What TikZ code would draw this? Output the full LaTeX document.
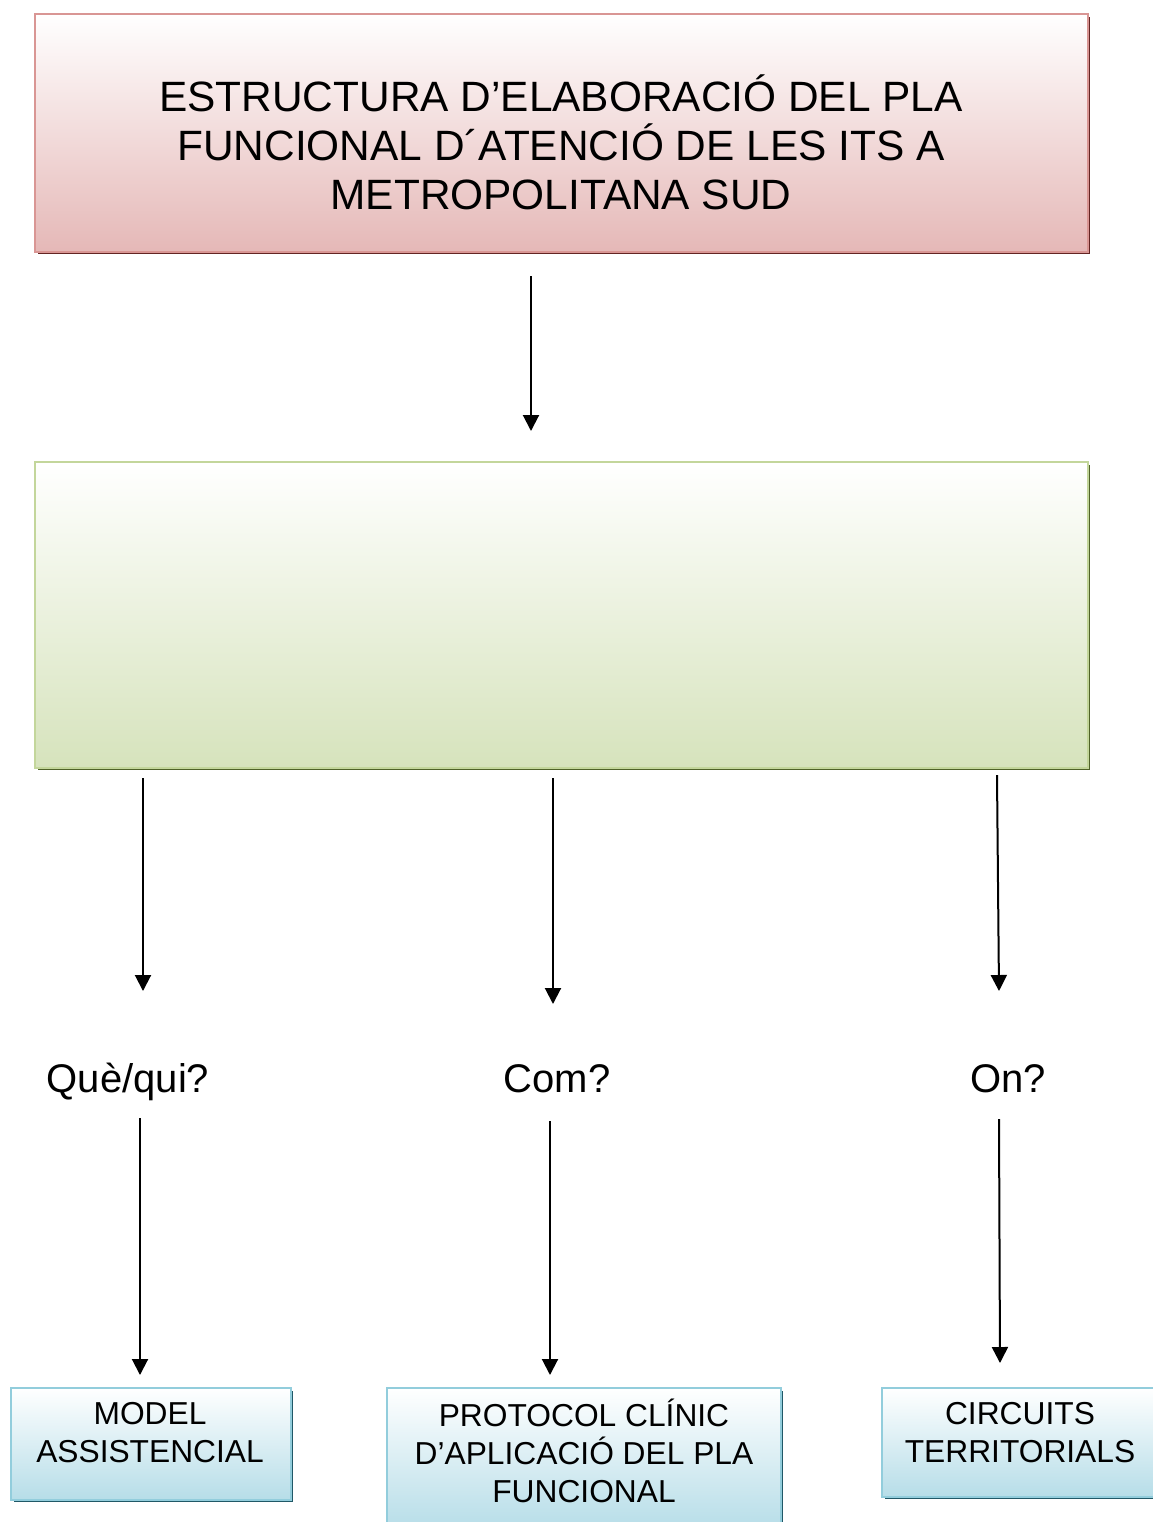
\documentclass[tikz,border=0pt]{standalone}
\usepackage{fontspec}
\setmainfont{Liberation Sans}
\usetikzlibrary{arrows.meta}

\definecolor{pinkfill}{HTML}{E5B8B7}
\definecolor{pinkline}{HTML}{D99694}
\definecolor{pinkshade}{HTML}{632423}
\definecolor{greenfill}{HTML}{D6E3BC}
\definecolor{greenline}{HTML}{C3D69B}
\definecolor{greenshade}{HTML}{4F6228}
\definecolor{bluefill}{HTML}{B6DDE8}
\definecolor{blueline}{HTML}{92CDDC}
\definecolor{blueshade}{HTML}{205867}

\tikzset{
  px/.style={x=0.75pt,y=-0.75pt},
  panel/.style 2 args={draw=#2, line width=1.5pt, top color=white, bottom color=#1},
  arr/.style={line width=1.5pt, -{Triangle[width=12pt,length=12pt]}},
  toptext/.style={align=center, inner sep=0pt, font=\fontsize{31.8pt}{36.8pt}\selectfont},
  boxtext/.style={align=center, inner sep=0pt, font=\fontsize{23.8pt}{28.5pt}\selectfont},
  qtext/.style={inner sep=0pt, anchor=base, font=\fontsize{30pt}{36pt}\selectfont}
}

\begin{document}
\begin{tikzpicture}[px]
\useasboundingbox (0,0) rectangle (1153,1522);

% drop shadows (bottom/right edges)
\fill[pinkshade]  (38,17) rectangle (1090,254);
\fill[greenshade] (38,465) rectangle (1090,770);
\fill[blueshade]  (14,1391) rectangle (293,1502);
\fill[blueshade]  (390,1391) rectangle (783,1530);
\fill[blueshade]  (885,1391) rectangle (1160,1499);

% boxes
\draw[panel={pinkfill}{pinkline}]  (35,14) rectangle (1088,252);
\draw[panel={greenfill}{greenline}] (35,462) rectangle (1088,768);
\draw[panel={bluefill}{blueline}] (11,1388) rectangle (291,1500);
\draw[panel={bluefill}{blueline}] (387,1388) rectangle (781,1530);
\draw[panel={bluefill}{blueline}] (882,1388) rectangle (1160,1497);

% texts
\node[toptext] (title) at (561,142) {ESTRUCTURA D’ELABORACIÓ DEL PLA\\FUNCIONAL D´ATENCIÓ DE LES ITS A\\METROPOLITANA SUD};

\node[qtext] (q1) at (128,1092) {Què/qui?};
\node[qtext] (q2) at (557,1092) {Com?};
\node[qtext] (q3) at (1008,1092) {On?};

\node[boxtext] (b1) at (150,1433) {MODEL\\ASSISTENCIAL};
\node[boxtext] (b2) at (584,1451) {PROTOCOL CLÍNIC\\D’APLICACIÓ DEL PLA\\FUNCIONAL};
\node[boxtext] (b3) at (1020,1433) {CIRCUITS\\TERRITORIALS};

% connector end points
\coordinate (a0s) at (531,276);  \coordinate (a0e) at (531,431);
\coordinate (a1s) at (143,778);  \coordinate (a1e) at (143,991);
\coordinate (a2s) at (553,778);  \coordinate (a2e) at (553,1004);
\coordinate (a3s) at (997,775);  \coordinate (a3e) at (999,991);
\coordinate (a4s) at (140,1118); \coordinate (a4e) at (140,1375);
\coordinate (a5s) at (550,1121); \coordinate (a5e) at (550,1375);
\coordinate (a6s) at (999,1119); \coordinate (a6e) at (1000,1363);

\draw[arr] (a0s) -- (a0e);
\draw[arr] (a1s) -- (a1e);
\draw[arr] (a2s) -- (a2e);
\draw[arr] (a3s) -- (a3e);
\draw[arr] (a4s) -- (a4e);
\draw[arr] (a5s) -- (a5e);
\draw[arr] (a6s) -- (a6e);
\end{tikzpicture}
\end{document}
